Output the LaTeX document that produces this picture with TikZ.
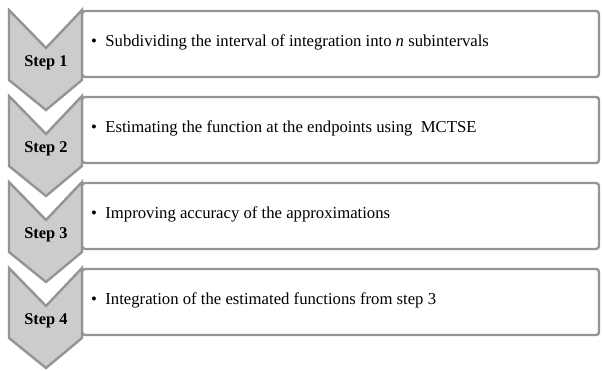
\documentclass[tikz,border=0pt]{standalone}
\usepackage{fontspec}
\setmainfont{Liberation Serif}
\usepackage{tikz}

\tikzset{
  chevron/.style={fill=black!20, draw=black!42, line width=2.4pt, line join=miter},
  stepbox/.style={fill=white, draw=black!42, line width=2.4pt, rounded corners=3pt},
  steplabel/.style={font=\fontsize{16.4}{18}\selectfont\bfseries},
  itemtext/.style={anchor=west, font=\fontsize{16.7}{18}\selectfont, inner sep=0pt}
}

\begin{document}
\begin{tikzpicture}[x=1pt,y=-1pt]
			% page size
			\useasboundingbox (0,0) rectangle (602,370);
			% one row per step: box, chevron, labels
			\foreach \i/\txt in {1/{Subdividing the interval of integration into \textit{n} subintervals},
			                     2/{Estimating the function at the endpoints using\ \ MCTSE},
			                     3/{Improving accuracy of the approximations},
			                     4/{Integration of the estimated functions from step 3}}{
				\pgfmathsetmacro{\t}{10+86*(\i-1)}
				% text box
				\draw[stepbox] (82,\t+1) rectangle (599,\t+67);
				% the arrow shape
				\draw[chevron] (9,\t) -- (46,\t+38) -- (82,\t) -- (82,\t+70)
					-- (46,\t+100) -- (9,\t+70) -- cycle;
				% labels
				\node[steplabel] (step\i) at (46,\t+53) {Step \i};
				\node[itemtext] (item\i) at (91,\t+32) {\textbullet\enspace\txt};
			}
		\end{tikzpicture}
\end{document}
